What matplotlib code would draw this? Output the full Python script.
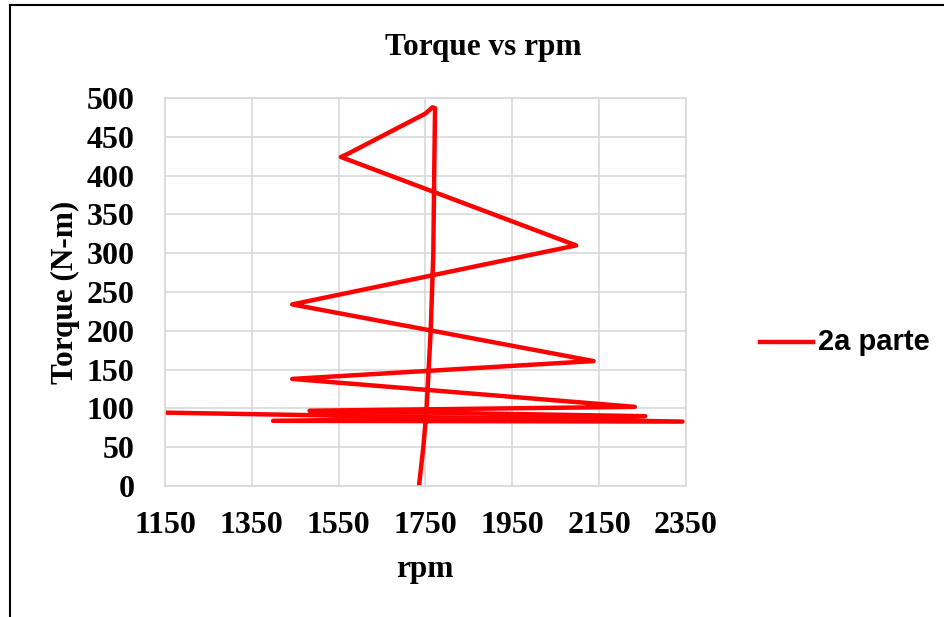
# Torque vs rpm, Excel-style scatter with lines
import matplotlib
matplotlib.use('Agg')
import matplotlib.pyplot as plt
from matplotlib.lines import Line2D

# Data, in drawing order
rpm = [1735, 1745, 1752, 1762, 1768, 1770, 1772, 1766, 1750, 1571, 1555,
       2097, 1443, 2137, 1443, 2232, 1483, 2256, 1399, 2342, 1000]
torque = [0, 50, 95, 200, 300, 400, 487, 488, 480, 428, 424,
          310, 234, 161, 138, 102, 97, 90, 84, 83, 96]

series_name = '2a parte'
x_ticks = [1150, 1350, 1550, 1750, 1950, 2150, 2350]
y_ticks = list(range(0, 501, 50))

serif = ['Liberation Serif', 'DejaVu Serif']

fig = plt.figure(figsize=(9.45, 6.17), dpi=100)
ax = fig.add_axes([165 / 945, 1 - 486 / 617, 521 / 945, 388 / 617])

ax.plot(rpm, torque, color='#FF0000', lw=3.2, solid_capstyle='round',
        solid_joinstyle='round', label=series_name)

ax.set_xlim(1150, 2350)
ax.set_ylim(0, 500)
ax.set_xticks(x_ticks)
ax.set_yticks(y_ticks)
ax.grid(True, color='#D9D9D9', lw=1.2)
ax.set_axisbelow(True)
for s in ax.spines.values():
    s.set_color('#D9D9D9')
    s.set_linewidth(1.2)
ax.tick_params(length=0, labelsize=23)
ax.tick_params(axis='y', pad=22)
ax.tick_params(axis='x', pad=18)
for lab in ax.get_xticklabels() + ax.get_yticklabels():
    lab.set_fontfamily(serif)
    lab.set_fontweight('bold')

fig.text(483 / 945, 1 - 47 / 617, 'Torque vs rpm', ha='center', va='center',
         fontsize=22.5, fontweight='bold', family=serif)
fig.text(425 / 945, 1 - 570 / 617, 'rpm', ha='center', va='center',
         fontsize=22.5, fontweight='bold', family=serif)
fig.text(65 / 945, 1 - 292 / 617, 'Torque (N-m)', ha='center', va='center',
         rotation=90, fontsize=22.5, fontweight='bold', family=serif)

# legend entry on the right
fig.add_artist(Line2D([760 / 945, 813 / 945], [1 - 342 / 617, 1 - 342 / 617],
                      color='#FF0000', lw=3.2))
fig.text(818 / 945, 1 - 342 / 617, series_name, ha='left', va='center',
         fontsize=21, fontweight='bold', family=['Liberation Sans', 'DejaVu Sans'])

# outer frame (cropped chart border)
fig.add_artist(Line2D([10 / 945, 10 / 945], [0, 1 - 5 / 617], color='black', lw=1.5))
fig.add_artist(Line2D([10 / 945, 1], [1 - 5 / 617, 1 - 5 / 617], color='black', lw=1.5))

fig.savefig('out.png', dpi=100)
